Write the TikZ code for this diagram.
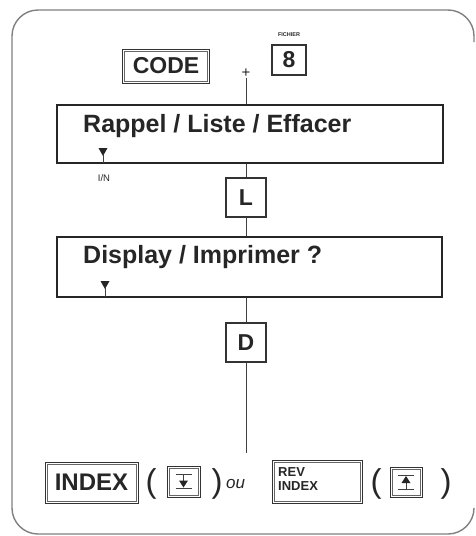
\documentclass[tikz,border=0pt]{standalone}
\usepackage{fontspec}
\setmainfont{Liberation Sans}
\begin{document}
\begin{tikzpicture}[x=1pt,y=-1pt,
  frame/.style={draw=black!50, line width=1.4pt, rounded corners=26pt},
  keyd/.style={draw=black!80, line width=0.8pt, inner sep=0pt, font=\bfseries\fontsize{23}{23}\selectfont, text=black!85},
  keys/.style={draw=black!80, line width=1.1pt, inner sep=0pt, font=\bfseries\fontsize{23}{23}\selectfont, text=black!85},
  inner/.style={draw=black!60, line width=0.5pt},
  panel/.style={draw=black!85, line width=2.2pt, inner sep=0pt},
  ptext/.style={anchor=base west, inner sep=0pt, font=\bfseries\fontsize{25}{25}\selectfont, text=black!85},
  link/.style={draw=black!75, line width=0.9pt},
  paren/.style={inner sep=0pt, font=\fontsize{33}{33}\selectfont, text=black!85},
  tri/.style={fill=black!85}
]
\newcommand\innerbox[1]{\draw[inner] ([shift={(2.4,2.4)}]#1.north west) rectangle ([shift={(-2.4,-2.4)}]#1.south east);}
\useasboundingbox (0,0) rectangle (475,536);
% frame
\draw[frame] (474,42) -- (474,10) -- (12,10) -- (12,534) -- (474,534) -- (474,510);

% top row
\node[keyd, minimum width=87, minimum height=34] (code) at (166,66) {CODE};
\innerbox{code}
\node[inner sep=0pt, font=\fontsize{15}{15}\selectfont, text=black!85] (plus) at (246,73) {+};
\node[inner sep=0pt, font=\bfseries\fontsize{5.5}{6}\selectfont, text=black!85] (fich) at (289,35) {FICHIER};
\node[keys, minimum width=34, minimum height=30] (k8) at (289,60) {8};

% Rappel panel
\node[panel, minimum width=386, minimum height=58] (rappel) at (250,134) {};
\node[ptext] (rtext) at (83,132) {Rappel / Liste / Effacer};
\fill[tri] (98.5,148) -- (107.5,148) -- (103,156) -- cycle;
\draw[link] (103,155) -- (103,163);
\node[inner sep=0pt, font=\fontsize{9.5}{9.5}\selectfont, text=black!85] (in) at (104,178) {I/N};

\node[keys, minimum width=40, minimum height=39] (kl) at (246,197.5) {L};

% Display panel
\node[panel, minimum width=385, minimum height=60] (disp) at (249.5,267) {};
\node[ptext] (dtext) at (83,263) {Display / Imprimer ?};
\fill[tri] (100.5,281) -- (109.5,281) -- (105,289) -- cycle;
\draw[link] (105,288) -- (105,297);

\node[keys, minimum width=40, minimum height=39] (kd) at (246,342.5) {D};
\coordinate (lend) at (246,453);

% connectors
\draw[link] (plus.south) -- (plus.south |- rappel.north);
\draw[link] (kl.north |- rappel.south) -- (kl.north);
\draw[link] (kl.south) -- (kl.south |- disp.north);
\draw[link] (kd.north |- disp.south) -- (kd.north);
\draw[link] (kd.south) -- (lend);

% bottom row
\node[keyd, minimum width=93, minimum height=41, font=\bfseries\fontsize{24}{24}\selectfont] (index) at (91.5,482.5) {INDEX};
\innerbox{index}
\node[paren] (lp1) at (151,484) {(};
\node[keyd, minimum width=33, minimum height=31] (s1) at (183.5,481.5) {};
\innerbox{s1}
\begin{scope}[shift={(s1.center)}]
  \draw[link] (-8,-7) -- (8,-7);
  \draw[link] (-8,7) -- (8,7);
  \draw[link] (0,-7) -- (0,0);
  \fill[tri] (-4.5,-1) -- (4.5,-1) -- (0,6) -- cycle;
\end{scope}
\node[paren] (rp1) at (217,484) {)};
\node[inner sep=0pt, anchor=base west, font=\itshape\fontsize{17}{17}\selectfont, text=black!85] (ou) at (226,488) {ou};
\node[keyd, minimum width=90, minimum height=43] (rev) at (317,481.5) {};
\innerbox{rev}
\node[anchor=north west, align=left, inner sep=0pt, font=\bfseries\fontsize{13}{14.5}\selectfont, text=black!85] (revt) at (278,467) {REV\\INDEX};
\node[paren] (lp2) at (376,484) {(};
\node[keyd, minimum width=32, minimum height=30] (s2) at (406,482) {};
\innerbox{s2}
\begin{scope}[shift={(s2.center)}]
  \draw[link] (-8,-7) -- (8,-7);
  \draw[link] (-8,7) -- (8,7);
  \draw[link] (0,7) -- (0,0);
  \fill[tri] (-4.5,1) -- (4.5,1) -- (0,-6) -- cycle;
\end{scope}
\node[paren] (rp2) at (446,484) {)};
\end{tikzpicture}
\end{document}
